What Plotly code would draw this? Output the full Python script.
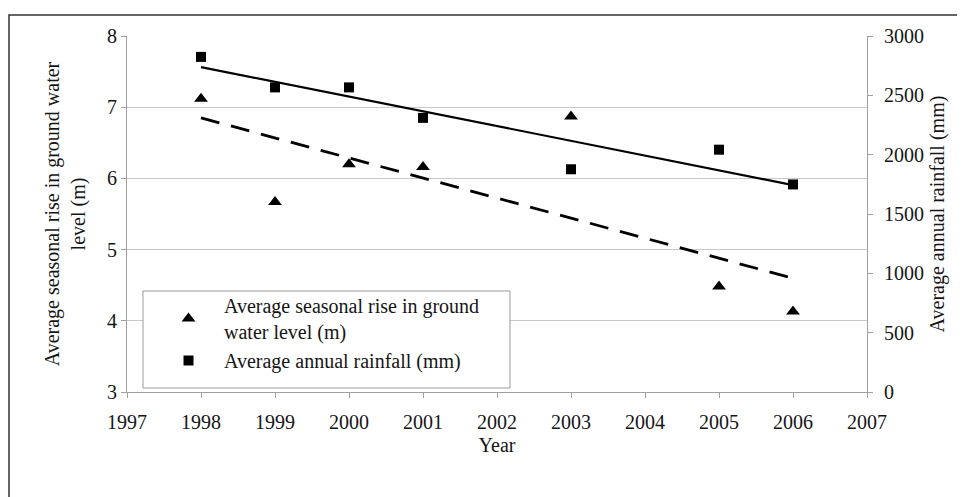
import numpy as np
import plotly.graph_objects as go

# ---- data ----
years_gw = [1998, 1999, 2000, 2001, 2003, 2005, 2006]
groundwater_rise_m = [7.12, 5.67, 6.20, 6.16, 6.87, 4.48, 4.13]

years_rain = [1998, 1999, 2000, 2001, 2003, 2005, 2006]
rainfall_mm = [2824, 2567, 2567, 2310, 1877, 2042, 1749]

x_ticks = list(range(1997, 2008))
gw_name = "Average seasonal rise in ground<br>water level (m)"
rain_name = "Average annual rainfall (mm)"

# linear trend lines (fitted from the series above)
gw_fit = np.polyfit(years_gw, groundwater_rise_m, 1)
rain_fit = np.polyfit(years_rain, rainfall_mm, 1)
trend_x = [min(years_gw), max(years_gw)]

FONT = "Liberation Serif, Times New Roman, serif"
TXT = "#151515"
# page body has an 8px margin, so the figure is drawn 8px smaller
OFF = 8
W, H = 965 - OFF, 497 - OFF
PLOT_L, PLOT_R, PLOT_T, PLOT_B = 127, 867, 36, 392  # in screen pixels
L = PLOT_L - OFF
T = PLOT_T - OFF
R = W - (PLOT_R - OFF)
B = H - (PLOT_B - OFF)
pw, ph = PLOT_R - PLOT_L, PLOT_B - PLOT_T


def px_to_paper(x, y):
    return (x - PLOT_L) / pw, (PLOT_B - y) / ph


fig = go.Figure()

fig.add_trace(go.Scatter(
    x=trend_x, y=list(np.polyval(gw_fit, trend_x)), mode="lines",
    line=dict(color="black", width=2.8, dash="19px,12px"),
    showlegend=False, hoverinfo="skip"))
fig.add_trace(go.Scatter(
    x=trend_x, y=list(np.polyval(rain_fit, trend_x)), mode="lines",
    line=dict(color="black", width=2.2), yaxis="y2",
    showlegend=False, hoverinfo="skip"))

fig.add_trace(go.Scatter(
    x=years_gw, y=groundwater_rise_m, mode="markers", name=gw_name,
    marker=dict(symbol="triangle-up", size=12, color="black")))
fig.add_trace(go.Scatter(
    x=years_rain, y=rainfall_mm, mode="markers", name=rain_name, yaxis="y2",
    marker=dict(symbol="square", size=10, color="black")))

# outer frame of the figure
fx0, fy1 = px_to_paper(9, 15)
fx1, fy0 = px_to_paper(990, 520)
# legend box
lx0, ly1 = px_to_paper(143, 291)
lx1, ly0 = px_to_paper(510, 388)
lgx, lgy = px_to_paper(153, 286)

fig.update_layout(
    width=W, height=H,
    margin=dict(l=L, r=R, t=T, b=B, autoexpand=False),
    paper_bgcolor="white", plot_bgcolor="white",
    font=dict(family=FONT, size=20, color=TXT),
    xaxis=dict(
        range=[1997, 2007], tickvals=x_ticks, ticktext=[str(v) for v in x_ticks],
        showgrid=False, zeroline=False,
        showline=True, linecolor="#a0a0a0", linewidth=1,
        ticks="outside", ticklen=5, tickcolor="#a0a0a0",
        ticklabelstandoff=7,
        title=dict(text="Year", standoff=5, font=dict(size=20)),
    ),
    yaxis=dict(
        range=[3, 8], dtick=1, showgrid=True, gridcolor="#c8c8c8", gridwidth=1,
        zeroline=False, showline=True, linecolor="#a0a0a0", linewidth=1,
        ticks="outside", ticklen=5, tickcolor="#a0a0a0",
        title=dict(text="Average seasonal rise in ground water<br>level (m)",
                   standoff=16, font=dict(size=20)),
    ),
    yaxis2=dict(
        range=[0, 3000], dtick=500, overlaying="y", side="right",
        showgrid=False, zeroline=False,
        showline=True, linecolor="#a0a0a0", linewidth=1,
        ticks="outside", ticklen=5, tickcolor="#a0a0a0",
        ticklabelstandoff=7,
        title=dict(text="Average annual rainfall (mm)", standoff=6,
                   font=dict(size=20)),
    ),
    legend=dict(
        x=lgx, y=lgy, xanchor="left", yanchor="top",
        bgcolor="rgba(0,0,0,0)", borderwidth=0,
        font=dict(family=FONT, size=20, color=TXT),
        tracegroupgap=0, itemwidth=61,
    ),
    shapes=[
        dict(type="rect", xref="paper", yref="paper",
             x0=lx0, x1=lx1, y0=ly0, y1=ly1,
             line=dict(color="#9a9a9a", width=1), fillcolor="white",
             layer="above"),
        dict(type="rect", xref="paper", yref="paper",
             x0=fx0, x1=fx1, y0=fy0, y1=fy1,
             line=dict(color="#333", width=1.5), fillcolor="rgba(0,0,0,0)"),
    ],
)

fig.write_html("out.html")
